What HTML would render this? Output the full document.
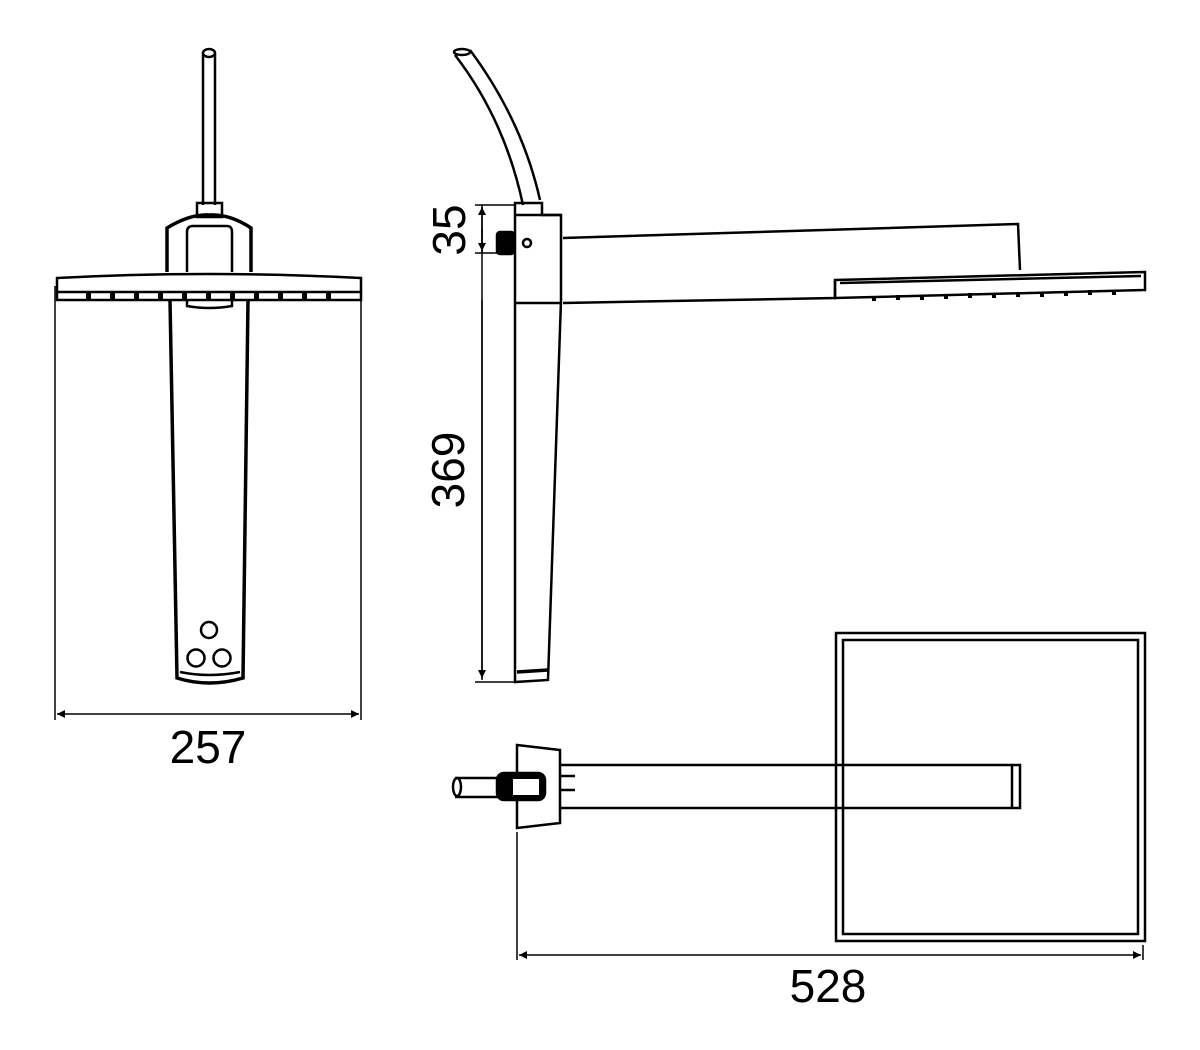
<!DOCTYPE html>
<html><head><meta charset="utf-8"><style>
html,body{margin:0;padding:0;background:#fff;}
svg{display:block;}
text{font-family:"Liberation Sans",sans-serif;fill:#000;}
</style></head><body>
<svg width="1200" height="1050" viewBox="0 0 1200 1050" xmlns="http://www.w3.org/2000/svg">
<defs>
<marker id="ar" viewBox="0 0 10 10" refX="10" refY="5" markerWidth="16" markerHeight="8" orient="auto-start-reverse" markerUnits="userSpaceOnUse"><path d="M0,0 L10,5 L0,10 z" fill="#000"/></marker>
</defs>
<g fill="none" stroke="#000" stroke-width="2.5">
<!-- FRONT VIEW -->
<path d="M203,53 L203,205 M215,53 L215,205"/>
<ellipse cx="209" cy="53" rx="6" ry="4"/>
<rect x="197" y="203" width="25" height="14"/>
<path d="M167,272 L167,228 Q190,214 209,215 Q230,214 251,228 L251,272" stroke-width="3.5"/>
<path d="M187,272 L187,232 Q187,226 193,226 L227,226 Q232,226 232,232 L232,272"/>
<path d="M57,278 Q209,270 361,278 L361,292 L57,292 Z"/>
<path d="M57,292 L57,300 L361,300 L361,292"/>
<path d="M170,300 L177,678 Q209,688 243,678 L248,300" stroke-width="3.5"/>
<path d="M180,672 Q209,678 240,672"/>
<path d="M187,300 L187,306 Q209,310 232,306 L232,300"/>
<circle cx="209" cy="630" r="8"/>
<circle cx="196" cy="658" r="8.5"/>
<circle cx="222" cy="658" r="8.5"/>
<path d="M55,286 L55,720 M361,286 L361,720" stroke-width="1.5"/>
<line x1="57" y1="714" x2="359" y2="714" stroke-width="1.5" marker-start="url(#ar)" marker-end="url(#ar)"/>

<!-- SIDE VIEW -->
<path d="M455,55 Q505,120 523,205 M470,50 Q522,120 540,200"/>
<ellipse cx="462" cy="52" rx="8" ry="3"/>
<path d="M515,203 L542,203 L542,215 L561,215 L561,300 L548,680 L515,682 Z"/>
<path d="M515,215 L561,215 M516,303 L561,303"/>
<path d="M517,672 L548,670" stroke-width="3.5"/>
<rect x="497" y="232" width="17" height="22" rx="3" fill="#000"/>
<circle cx="527" cy="243" r="4"/>
<path d="M563,238 L1018,224 L1020,270 M563,303 L835,298 L835,280"/>
<path d="M835,280 L1145,272 L1145,290 L835,298 Z"/>
<path d="M840,283 L1141,276"/>
<path d="M482,205 L482,680" stroke-width="1.5"/>
<line x1="482" y1="253" x2="482" y2="207" stroke-width="1.5" marker-end="url(#ar)"/>
<line x1="482" y1="229" x2="482" y2="251" stroke-width="1.5" marker-end="url(#ar)"/>
<line x1="482" y1="300" x2="482" y2="678" stroke-width="1.5" marker-end="url(#ar)"/>
<path d="M475,205 L515,205 M475,253 L497,253 M475,682 L515,682" stroke-width="1.5"/>

<!-- TOP VIEW -->
<rect x="836" y="633" width="309" height="308"/>
<rect x="843" y="640" width="295" height="294"/>
<path d="M560,765 L1020,765 L1020,808 L560,808"/>
<path d="M1012,765 L1012,808"/>
<path d="M517,745 L560,750 L560,823 L517,828 Z"/>
<path d="M560,776 L575,776 M560,790 L575,790"/>
<path d="M455,778 L500,778 M455,797 L500,797"/>
<ellipse cx="457" cy="787" rx="4" ry="9"/>
<rect x="497" y="773" width="48" height="27" rx="7" fill="#000"/>
<rect x="513" y="779" width="26" height="16" fill="#fff" stroke="none"/>
<path d="M517,832 L517,960 M1143,945 L1143,960" stroke-width="1.5"/>
<line x1="519" y1="955" x2="1141" y2="955" stroke-width="1.5" marker-start="url(#ar)" marker-end="url(#ar)"/>
</g>
<g fill="#000">
<rect x="86" y="292" width="5" height="8"/><rect x="110" y="292" width="5" height="8"/><rect x="134" y="292" width="5" height="8"/><rect x="158" y="292" width="5" height="8"/><rect x="182" y="292" width="5" height="8"/><rect x="206" y="292" width="5" height="8"/><rect x="230" y="292" width="5" height="8"/><rect x="254" y="292" width="5" height="8"/><rect x="278" y="292" width="5" height="8"/><rect x="302" y="292" width="5" height="8"/><rect x="326" y="292" width="5" height="8"/>
<rect x="872" y="296" width="4" height="5"/><rect x="896" y="295" width="4" height="5"/><rect x="920" y="295" width="4" height="5"/><rect x="944" y="294" width="4" height="5"/><rect x="968" y="293" width="4" height="5"/><rect x="992" y="293" width="4" height="5"/><rect x="1016" y="292" width="4" height="5"/><rect x="1040" y="292" width="4" height="5"/><rect x="1064" y="291" width="4" height="5"/><rect x="1088" y="290" width="4" height="5"/><rect x="1112" y="290" width="4" height="5"/>
</g>
<text x="208" y="763" font-size="46" text-anchor="middle">257</text>
<text x="828" y="1002" font-size="46" text-anchor="middle">528</text>
<text transform="translate(465,230) rotate(-90)" font-size="46" text-anchor="middle">35</text>
<text transform="translate(464,470) rotate(-90)" font-size="46" text-anchor="middle">369</text>
</svg>
</body></html>
